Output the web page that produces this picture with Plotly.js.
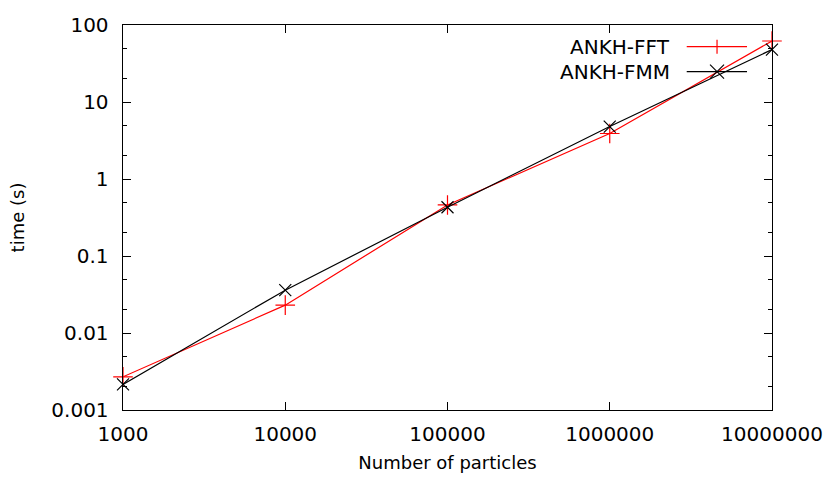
<!DOCTYPE html>
<html>
<head>
<meta charset="utf-8">
<script src="https://cdn.plot.ly/plotly-3.0.1.min.js"></script>
<style>
  body { margin: 0; background: #fff; }
  #chart { width: 830px; height: 498px; }
</style>
</head>
<body>
<div id="chart"></div>
<script>
// number of particles
let particles = [1000, 10000, 100000, 1000000, 10000000];
// timings in seconds
let time_fft = [0.0027, 0.023, 0.46, 3.9, 62];
let time_fmm = [0.00215, 0.036, 0.43, 4.8, 48];

let x_tick_vals = [1000, 10000, 100000, 1000000, 10000000];
let x_tick_text = ['1000', '10000', '100000', '1000000', '10000000'];
let y_tick_vals = [0.001, 0.01, 0.1, 1, 10, 100];
let y_tick_text = ['0.001', '0.01', '0.1', '1', '10', '100'];

let minor_y = [];
for (let i = 0; i < y_tick_vals.length - 1; i++) {
	minor_y.push(y_tick_vals[i] * 2);
	minor_y.push(y_tick_vals[i] * 5);
}

let font_family = 'DejaVu Sans, sans-serif';

let traces = [
	{
		type: 'scatter',
		mode: 'lines+markers',
		name: 'ANKH-FFT',
		x: particles,
		y: time_fft,
		line: { color: 'rgb(255, 0, 0)', width: 1.2 },
		marker: { symbol: 'cross-thin-open', size: 14, line: { color: 'rgb(255, 0, 0)', width: 1.2 } },
		cliponaxis: false
	},
	{
		type: 'scatter',
		mode: 'lines+markers',
		name: 'ANKH-FMM',
		x: particles,
		y: time_fmm,
		line: { color: 'black', width: 1.2 },
		marker: { symbol: 'x-thin-open', size: 12, line: { color: 'black', width: 1.2 } },
		cliponaxis: false
	}
];

// gnuplot-style key: text on the left, sample on the right
let key_text_x = 0.8455;
let key_x0 = 0.8686, key_x1 = 0.9615, key_mid = 0.9153;
let key_y = [0.9436, 0.8787];

let shapes = [
	{ type: 'line', xref: 'paper', yref: 'paper', x0: key_x0, x1: key_x1, y0: key_y[0], y1: key_y[0], line: { color: 'rgb(255,0,0)', width: 1.2 } },
	{ type: 'line', xref: 'paper', yref: 'paper', xsizemode: 'pixel', ysizemode: 'pixel', xanchor: key_mid, yanchor: key_y[0], x0: 0, x1: 0, y0: -7, y1: 7, line: { color: 'rgb(255,0,0)', width: 1.2 } },
	{ type: 'line', xref: 'paper', yref: 'paper', x0: key_x0, x1: key_x1, y0: key_y[1], y1: key_y[1], line: { color: 'black', width: 1.2 } },
	{ type: 'line', xref: 'paper', yref: 'paper', xsizemode: 'pixel', ysizemode: 'pixel', xanchor: key_mid, yanchor: key_y[1], x0: -7, x1: 7, y0: -7, y1: 7, line: { color: 'black', width: 1.2 } },
	{ type: 'line', xref: 'paper', yref: 'paper', xsizemode: 'pixel', ysizemode: 'pixel', xanchor: key_mid, yanchor: key_y[1], x0: -7, x1: 7, y0: 7, y1: -7, line: { color: 'black', width: 1.2 } }
];

let annotations = [
	{ text: 'ANKH-FFT', xref: 'paper', yref: 'paper', x: key_text_x, y: key_y[0], xanchor: 'right', yanchor: 'middle', showarrow: false, font: { family: font_family, size: 20, color: 'black' } },
	{ text: 'ANKH-FMM', xref: 'paper', yref: 'paper', x: key_text_x, y: key_y[1], xanchor: 'right', yanchor: 'middle', showarrow: false, font: { family: font_family, size: 20, color: 'black' } }
];

let layout = {
	width: 830,
	height: 498,
	showlegend: false,
	paper_bgcolor: 'white',
	plot_bgcolor: 'white',
	font: { family: font_family, color: 'black' },
	margin: { l: 123, r: 58, t: 25, b: 88, pad: 0 },
	xaxis: {
		type: 'log',
		range: [2.9999, 7.0001],
		tickvals: x_tick_vals,
		ticktext: x_tick_text,
		ticks: 'inside',
		ticklen: 8,
		tickwidth: 1,
		tickcolor: 'black',
		showline: true,
		linecolor: 'black',
		linewidth: 1.4,
		mirror: 'ticks',
		showgrid: false,
		zeroline: false,
		tickfont: { size: 20 },
		ticklabelstandoff: 6,
		title: { text: 'Number of particles', font: { size: 18 }, standoff: 11 }
	},
	yaxis: {
		type: 'log',
		range: [-3.0001, 2.0001],
		tickvals: y_tick_vals,
		ticktext: y_tick_text,
		ticks: 'inside',
		ticklen: 8,
		tickwidth: 1,
		tickcolor: 'black',
		minor: { tickvals: minor_y, ticks: 'inside', ticklen: 4, tickwidth: 1, tickcolor: 'black' },
		showline: true,
		linecolor: 'black',
		linewidth: 1.4,
		mirror: 'ticks',
		showgrid: false,
		zeroline: false,
		tickfont: { size: 20 },
		ticklabelstandoff: 9,
		title: { text: 'time (s)', font: { size: 18 }, standoff: 22 }
	},
	shapes: shapes,
	annotations: annotations
};

Plotly.newPlot('chart', traces, layout, { displayModeBar: false, staticPlot: true });
</script>
</body>
</html>
